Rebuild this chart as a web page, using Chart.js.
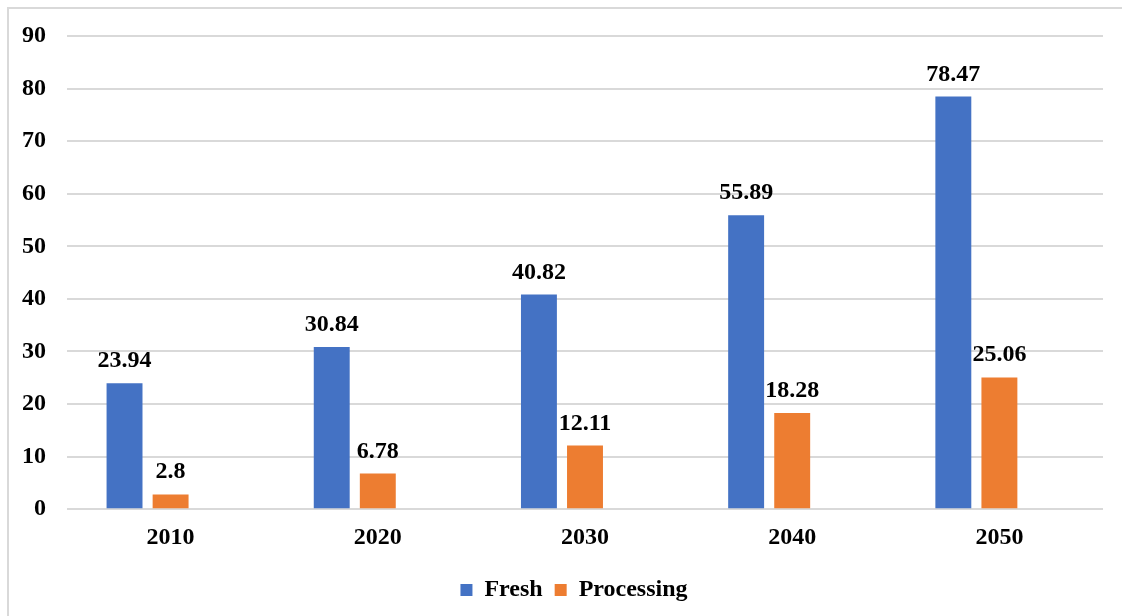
<!DOCTYPE html>
<html>
<head>
<meta charset="utf-8">
<script src="https://cdn.jsdelivr.net/npm/chart.js@4.4.0/dist/chart.umd.min.js"></script>
<style>
  html, body { margin: 0; padding: 0; background: #fff; }
  #wrap { position: relative; width: 1122px; height: 616px; }
  #frame { position: absolute; left: 7px; top: 7px; right: 0; bottom: 0;
           border-top: 2px solid #d9d9d9; border-left: 2px solid #d9d9d9; pointer-events: none; }
</style>
</head>
<body>
<div id="wrap">
  <canvas id="meuGrafico" width="1122" height="616"></canvas>
  <div id="frame"></div>
</div>
<script>
var anos = ["2010", "2020", "2030", "2040", "2050"];
var fresh = [23.94, 30.84, 40.82, 55.89, 78.47];
var processing = [2.8, 6.78, 12.11, 18.28, 25.06];
// Excel chart had an empty third series, it keeps the bar pair left of the label
var vazio = [null, null, null, null, null];
var yMin = 0, yMax = 90, yStep = 10;

var fonte = "'Liberation Serif', 'Times New Roman', serif";

var rotulos = {
  id: "rotulos",
  afterDatasetsDraw: function(chart) {
    var ctx = chart.ctx;
    ctx.save();
    ctx.font = "bold 24px " + fonte;
    ctx.fillStyle = "#000";
    ctx.textAlign = "center";
    ctx.textBaseline = "alphabetic";
    chart.data.datasets.forEach(function(ds, i) {
      var meta = chart.getDatasetMeta(i);
      meta.data.forEach(function(bar, j) {
        var v = ds.data[j];
        if (v === null) return;
        ctx.fillText(String(v), bar.x, bar.y - 16);
      });
    });
    ctx.restore();
  }
};

// legend sits a bit right of centre in the original
var empurraLegenda = {
  id: "empurraLegenda",
  afterLayout: function(chart) {
    chart.legend.left += 22;
    chart.legend.right += 22;
  }
};

new Chart("meuGrafico", {
  type: "bar",
  data: {
    labels: anos,
    datasets: [
      { label: "Fresh", data: fresh, backgroundColor: "#4472C4" },
      { label: "Processing", data: processing, backgroundColor: "#ED7D31" },
      { label: "", data: vazio, backgroundColor: "#A5A5A5" }
    ]
  },
  options: {
    responsive: false,
    animation: false,
    datasets: { bar: { categoryPercentage: 0.667, barPercentage: 0.78 } },
    layout: { padding: { left: 1, right: 19, top: 36, bottom: 4 } },
    plugins: {
      legend: {
        position: "bottom",
        labels: {
          color: "#000",
          font: { family: fonte, size: 24, weight: "bold" },
          boxWidth: 12, boxHeight: 12, padding: 12,
          filter: function(item) { return item.text !== ""; }
        }
      },
      tooltip: { enabled: false }
    },
    scales: {
      x: {
        grid: { display: false, drawTicks: false },
        border: { display: false },
        ticks: { color: "#000", padding: 14, font: { family: fonte, size: 24, weight: "bold" } }
      },
      y: {
        min: yMin, max: yMax,
        grid: { color: "#d9d9d9", lineWidth: 2, drawTicks: false },
        border: { display: false },
        ticks: { stepSize: yStep, color: "#000", padding: 21, font: { family: fonte, size: 24, weight: "bold" } }
      }
    }
  },
  plugins: [rotulos, empurraLegenda]
});
</script>
</body>
</html>
